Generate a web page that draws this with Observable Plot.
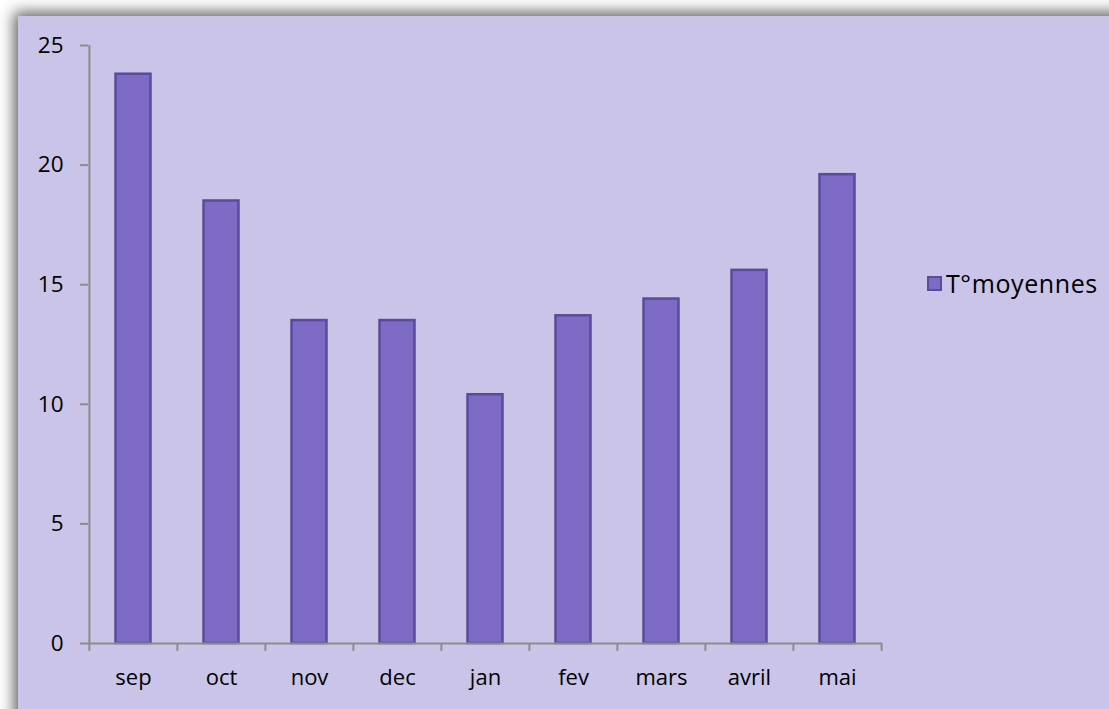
<!DOCTYPE html>
<html>
<head>
<meta charset="utf-8">
<script src="https://cdn.jsdelivr.net/npm/d3@7"></script>
<script src="https://cdn.jsdelivr.net/npm/@observablehq/plot@0.6"></script>
<style>
  html, body { margin: 0; padding: 0; width: 1109px; height: 709px; overflow: hidden; background: #ffffff; }
  #panel { position: absolute; left: 18px; top: 16px; width: 1120px; height: 720px; background: #c9c4e8;
           box-shadow: 0 0 14px 4px rgba(80,80,80,0.9); }
  #chart { position: absolute; left: 0; top: 0; }
  #legend { position: absolute; left: 927px; top: 266px; display: flex; align-items: center;
            font-family: "Open Sans", sans-serif; font-size: 25px; letter-spacing: 0.6px; color: #000; }
  #legend .sw { width: 11px; height: 11px; background: #7e6bc5; border: 2px solid #5b4b9b; margin-right: 4px; }
</style>
</head>
<body>
<div id="panel"></div>
<div id="chart"></div>
<div id="legend"><div class="sw"></div><span id="legtext"></span></div>
<script>
const months = ["sep", "oct", "nov", "dec", "jan", "fev", "mars", "avril", "mai"];
const temperatures = [23.8, 18.5, 13.5, 13.5, 10.4, 13.7, 14.4, 15.6, 19.6];
const yTicks = [0, 5, 10, 15, 20, 25];
const seriesName = "T°moyennes";

const data = months.map((m, i) => ({month: m, value: temperatures[i]}));

const W = 1109, H = 709;
const mL = 88, mR = 227, mT = 45, mB = 66;
const bw = (W - mL - mR) / months.length;
const axisColor = "#8c8c8c";
const font = "'Open Sans', sans-serif";

const plot = Plot.plot({
  width: W, height: H,
  marginLeft: mL, marginRight: mR, marginTop: mT, marginBottom: mB,
  style: {background: "transparent", fontFamily: font, fontSize: "22px", color: "#000"},
  x: {type: "band", domain: months, padding: 0, label: null},
  y: {domain: [0, 25], label: null},
  marks: [
    Plot.barY(data, {x: "month", y: "value", fill: "#7e6bc5", stroke: "#5b4b9b", strokeWidth: 2.5,
                     insetLeft: 26.5, insetRight: 26.5}),
    Plot.ruleY([0], {stroke: axisColor, strokeWidth: 2}),
    Plot.ruleX([months[0]], {x: d => d, dx: -bw / 2, y1: 0, y2: 25, stroke: axisColor, strokeWidth: 2}),
    Plot.axisY({ticks: yTicks, tickSize: 8, tickPadding: 17, stroke: axisColor, strokeWidth: 2,
                fill: "#000", fontSize: 22.5, label: null}),
    Plot.axisX({tickSize: 8, tickFormat: () => "", dx: -bw / 2, stroke: axisColor, strokeWidth: 2, label: null}),
    Plot.axisX({ticks: [months[months.length - 1]], tickSize: 8, tickFormat: () => "", dx: bw / 2,
                stroke: axisColor, strokeWidth: 2, label: null}),
    Plot.axisX({tickSize: 0, tickPadding: 26, fill: "#000", fontSize: 22, label: null})
  ]
});
document.getElementById("chart").appendChild(plot);
document.getElementById("legtext").textContent = seriesName;
</script>
</body>
</html>
